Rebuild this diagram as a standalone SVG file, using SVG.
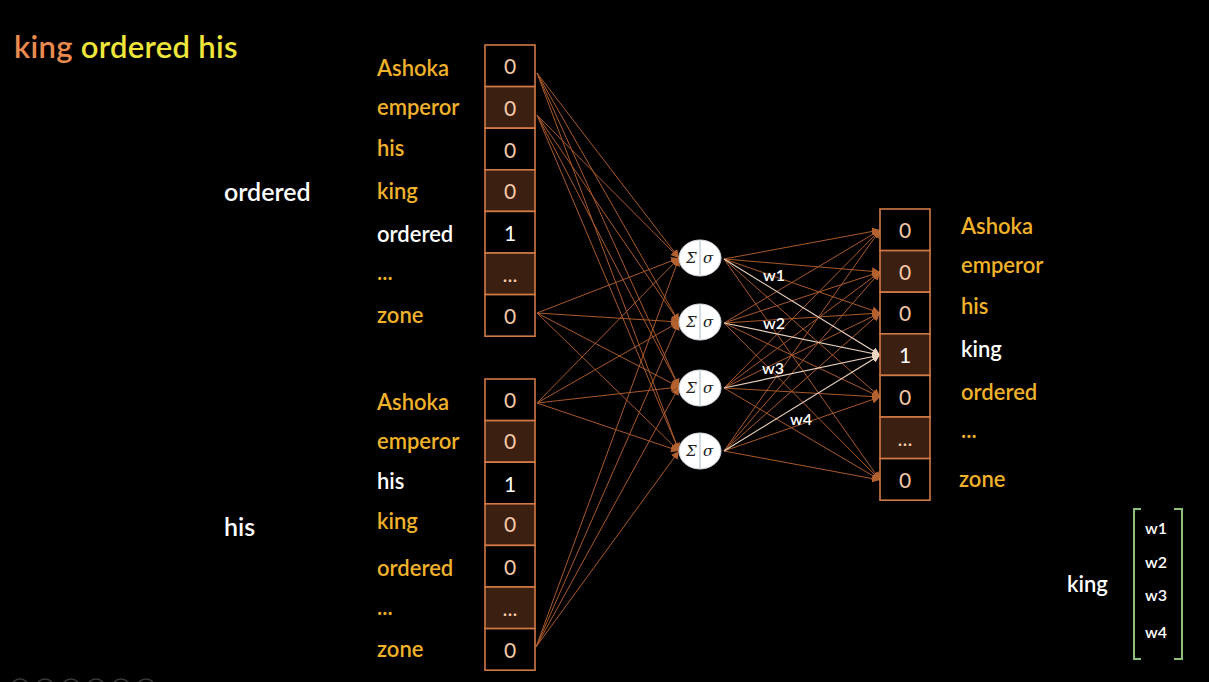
<svg xmlns="http://www.w3.org/2000/svg" width="1209" height="682" viewBox="0 0 1209 682">
<style>
.lbl{font-family:Lato,"Open Sans",sans-serif;font-size:22px;font-weight:600;fill:#f0b22a}
.wl{font-family:Lato,"Open Sans",sans-serif;font-size:22px;font-weight:600;fill:#ffffff}
.big{font-family:Lato,"Open Sans",sans-serif;font-size:25px;font-weight:600;fill:#ffffff}
.num{font-family:Lato,"Open Sans",sans-serif;font-size:21px;fill:#f6c9a6;text-anchor:middle}
.one{font-family:Lato,"Open Sans",sans-serif;font-size:21px;fill:#ffffff;text-anchor:middle}
.cell{fill:#000;stroke:#d27a45;stroke-width:1.6}
.cellb{fill:#3b2012;stroke:#d27a45;stroke-width:1.6}
.c{stroke:#a9592a;stroke-width:1;fill:none;marker-end:url(#ah)}
.h{stroke:#ead2bf;stroke-width:1.2;fill:none;marker-end:url(#ahw)}
.w{font-family:Lato,"Open Sans",sans-serif;font-size:16px;font-weight:600;fill:#ffffff}
.sym{font-family:"DejaVu Serif","Liberation Serif",serif;font-style:italic;font-size:15px;fill:#222}
</style>
<defs>
<marker id="ah" viewBox="0 0 10 10" refX="10" refY="5" markerWidth="8" markerHeight="8" markerUnits="userSpaceOnUse" orient="auto"><path d="M0,0 L10,5 L0,10 z" fill="#b3612e"/></marker>
<marker id="ahw" viewBox="0 0 10 10" refX="10" refY="5" markerWidth="8" markerHeight="8" markerUnits="userSpaceOnUse" orient="auto"><path d="M0,0 L10,5 L0,10 z" fill="#f0d6c2"/></marker>
</defs>
<rect width="1209" height="682" fill="#000"/>

<text x="14" y="58" font-family="Lato,'Open Sans',sans-serif" font-size="31" font-weight="600" letter-spacing="0.3"><tspan fill="#ea8a4e">king</tspan><tspan fill="#f0e63a"> ordered his</tspan></text>
<text x="224" y="201" class="big">ordered</text>
<text x="224" y="536" class="big">his</text>

<g id="connectors">
<g id="in-connectors">
<line class="c" x1="537" y1="73" x2="679" y2="258"/>
<line class="c" x1="537" y1="73" x2="679" y2="322"/>
<line class="c" x1="537" y1="73" x2="679" y2="387"/>
<line class="c" x1="537" y1="73" x2="679" y2="451"/>
<line class="c" x1="537" y1="115" x2="679" y2="258"/>
<line class="c" x1="537" y1="115" x2="679" y2="322"/>
<line class="c" x1="537" y1="115" x2="679" y2="387"/>
<line class="c" x1="537" y1="115" x2="679" y2="451"/>
<line class="c" x1="537" y1="313" x2="679" y2="258"/>
<line class="c" x1="537" y1="313" x2="679" y2="322"/>
<line class="c" x1="537" y1="313" x2="679" y2="387"/>
<line class="c" x1="537" y1="313" x2="679" y2="451"/>
<line class="c" x1="537" y1="403" x2="679" y2="258"/>
<line class="c" x1="537" y1="403" x2="679" y2="322"/>
<line class="c" x1="537" y1="403" x2="679" y2="387"/>
<line class="c" x1="537" y1="403" x2="679" y2="451"/>
<line class="c" x1="536" y1="647" x2="679" y2="258"/>
<line class="c" x1="536" y1="647" x2="679" y2="322"/>
<line class="c" x1="536" y1="647" x2="679" y2="387"/>
<line class="c" x1="536" y1="647" x2="679" y2="451"/>
</g>
<g id="out-connectors">
<line class="c" x1="724" y1="259" x2="880" y2="230"/>
<line class="c" x1="724" y1="259" x2="880" y2="272"/>
<line class="c" x1="724" y1="259" x2="880" y2="313"/>
<line class="c" x1="724" y1="259" x2="880" y2="397"/>
<line class="c" x1="724" y1="259" x2="880" y2="480"/>
<line class="c" x1="724" y1="323" x2="880" y2="230"/>
<line class="c" x1="724" y1="323" x2="880" y2="272"/>
<line class="c" x1="724" y1="323" x2="880" y2="313"/>
<line class="c" x1="724" y1="323" x2="880" y2="397"/>
<line class="c" x1="724" y1="323" x2="880" y2="480"/>
<line class="c" x1="724" y1="388" x2="880" y2="230"/>
<line class="c" x1="724" y1="388" x2="880" y2="272"/>
<line class="c" x1="724" y1="388" x2="880" y2="313"/>
<line class="c" x1="724" y1="388" x2="880" y2="397"/>
<line class="c" x1="724" y1="388" x2="880" y2="480"/>
<line class="c" x1="724" y1="451" x2="880" y2="230"/>
<line class="c" x1="724" y1="451" x2="880" y2="272"/>
<line class="c" x1="724" y1="451" x2="880" y2="313"/>
<line class="c" x1="724" y1="451" x2="880" y2="397"/>
<line class="c" x1="724" y1="451" x2="880" y2="480"/>
<line class="h" x1="724" y1="259" x2="880" y2="355"/>
<line class="h" x1="724" y1="323" x2="880" y2="355"/>
<line class="h" x1="724" y1="388" x2="880" y2="355"/>
<line class="h" x1="724" y1="451" x2="880" y2="355"/>
</g>
<text x="763" y="281" class="w">w1</text>
<text x="763" y="329" class="w">w2</text>
<text x="762" y="374" class="w">w3</text>
<text x="790" y="425" class="w">w4</text>
</g>

<g id="input-top">
<rect class="cell" x="485" y="45" width="50" height="41.6"/>
<rect class="cellb" x="485" y="86.6" width="50" height="41.6"/>
<rect class="cell" x="485" y="128.2" width="50" height="41.6"/>
<rect class="cellb" x="485" y="169.8" width="50" height="41.6"/>
<rect class="cell" x="485" y="211.4" width="50" height="41.6"/>
<rect class="cellb" x="485" y="253" width="50" height="41.6"/>
<rect class="cell" x="485" y="294.6" width="50" height="41.6"/>
<text class="num" x="510" y="74">0</text>
<text class="num" x="510" y="116">0</text>
<text class="num" x="510" y="158">0</text>
<text class="num" x="510" y="199">0</text>
<text class="one" x="510" y="241">1</text>
<text class="num" x="510" y="282">...</text>
<text class="num" x="510" y="324">0</text>
<text class="lbl" x="377" y="76">Ashoka</text>
<text class="lbl" x="377" y="115">emperor</text>
<text class="lbl" x="377" y="156">his</text>
<text class="lbl" x="377" y="199">king</text>
<text class="wl" x="377" y="242">ordered</text>
<text class="lbl" x="377" y="280">...</text>
<text class="lbl" x="377" y="323">zone</text>
</g>

<g id="input-bottom">
<rect class="cell" x="485" y="379" width="50" height="41.6"/>
<rect class="cellb" x="485" y="420.6" width="50" height="41.6"/>
<rect class="cell" x="485" y="462.2" width="50" height="41.6"/>
<rect class="cellb" x="485" y="503.8" width="50" height="41.6"/>
<rect class="cell" x="485" y="545.4" width="50" height="41.6"/>
<rect class="cellb" x="485" y="587" width="50" height="41.6"/>
<rect class="cell" x="485" y="628.6" width="50" height="41.6"/>
<text class="num" x="510" y="408">0</text>
<text class="num" x="510" y="449">0</text>
<text class="one" x="510" y="492">1</text>
<text class="num" x="510" y="532">0</text>
<text class="num" x="510" y="575">0</text>
<text class="num" x="510" y="616">...</text>
<text class="num" x="510" y="658">0</text>
<text class="lbl" x="377" y="410">Ashoka</text>
<text class="lbl" x="377" y="449">emperor</text>
<text class="wl" x="377" y="489">his</text>
<text class="lbl" x="377" y="529">king</text>
<text class="lbl" x="377" y="576">ordered</text>
<text class="lbl" x="377" y="615">...</text>
<text class="lbl" x="377" y="657">zone</text>
</g>

<g id="neurons">
<g id="n1"><ellipse cx="700" cy="258" rx="21" ry="18" fill="#fff" stroke="#cfd6de" stroke-width="1"/><line x1="700" y1="241" x2="700" y2="275" stroke="#b8c4d0" stroke-width="1.2"/><text class="sym" x="686" y="263">Σ</text><text class="sym" x="703" y="263">σ</text></g>
<g id="n2"><ellipse cx="700" cy="322" rx="21" ry="18" fill="#fff" stroke="#cfd6de" stroke-width="1"/><line x1="700" y1="305" x2="700" y2="339" stroke="#b8c4d0" stroke-width="1.2"/><text class="sym" x="686" y="327">Σ</text><text class="sym" x="703" y="327">σ</text></g>
<g id="n3"><ellipse cx="700" cy="388" rx="21" ry="18" fill="#fff" stroke="#cfd6de" stroke-width="1"/><line x1="700" y1="371" x2="700" y2="405" stroke="#b8c4d0" stroke-width="1.2"/><text class="sym" x="686" y="393">Σ</text><text class="sym" x="703" y="393">σ</text></g>
<g id="n4"><ellipse cx="700" cy="451" rx="21" ry="18" fill="#fff" stroke="#cfd6de" stroke-width="1"/><line x1="700" y1="434" x2="700" y2="468" stroke="#b8c4d0" stroke-width="1.2"/><text class="sym" x="686" y="456">Σ</text><text class="sym" x="703" y="456">σ</text></g>
</g>

<g id="output">
<rect class="cell" x="880" y="209" width="50" height="41.6"/>
<rect class="cellb" x="880" y="250.6" width="50" height="41.6"/>
<rect class="cell" x="880" y="292.2" width="50" height="41.6"/>
<rect class="cellb" x="880" y="333.8" width="50" height="41.6"/>
<rect class="cell" x="880" y="375.4" width="50" height="41.6"/>
<rect class="cellb" x="880" y="417" width="50" height="41.6"/>
<rect class="cell" x="880" y="458.6" width="50" height="41.6"/>
<text class="num" x="905" y="238">0</text>
<text class="num" x="905" y="280">0</text>
<text class="num" x="905" y="321">0</text>
<text class="one" x="905" y="363">1</text>
<text class="num" x="905" y="405">0</text>
<text class="num" x="905" y="446">...</text>
<text class="num" x="905" y="488">0</text>
<text class="lbl" x="961" y="234">Ashoka</text>
<text class="lbl" x="961" y="273">emperor</text>
<text class="lbl" x="961" y="314">his</text>
<text class="wl" x="961" y="357">king</text>
<text class="lbl" x="961" y="400">ordered</text>
<text class="lbl" x="961" y="438">...</text>
<text class="lbl" x="959" y="487">zone</text>
</g>

<g id="embedding">
<text x="1067" y="592" font-family="Lato,'Open Sans',sans-serif" font-size="22" font-weight="600" fill="#fff">king</text>
<path d="M1141,509 H1134 V659 H1141 M1174,509 H1182 V659 H1174" fill="none" stroke="#8cbf7a" stroke-width="2"/>
<text class="w" x="1145" y="534">w1</text>
<text class="w" x="1145" y="568">w2</text>
<text class="w" x="1145" y="601">w3</text>
<text class="w" x="1145" y="638">w4</text>
</g>

<g id="controls" fill="none" stroke="#3a3a3a" stroke-width="1.5">
<circle cx="20" cy="688" r="9"/><circle cx="45" cy="688" r="9"/><circle cx="71" cy="688" r="9"/><circle cx="96" cy="688" r="9"/><circle cx="121" cy="688" r="9"/><circle cx="146" cy="688" r="9"/>
</g>
</svg>
